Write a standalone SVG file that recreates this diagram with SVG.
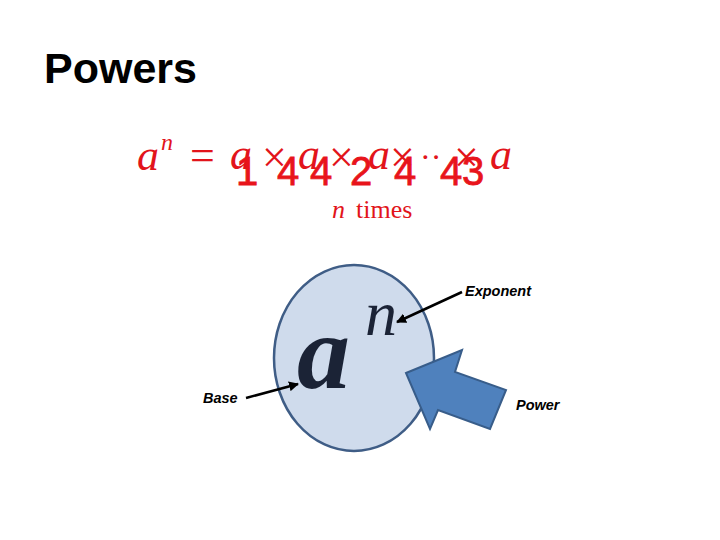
<svg xmlns="http://www.w3.org/2000/svg" width="720" height="540" viewBox="0 0 720 540">
<style>
.title{font-family:"Liberation Sans",Arial,sans-serif;font-weight:bold;font-size:43px;fill:#000}
.ser{font-family:"Liberation Serif","Times New Roman",serif;fill:#e2141b}
.it{font-style:italic}
.dig{font-family:"Liberation Sans",Arial,sans-serif;font-size:40px;fill:#e8141b;stroke:#e8141b;stroke-width:0.8}
.lbl{font-family:"Liberation Sans",Arial,sans-serif;font-style:italic;font-weight:bold;font-size:14.5px;fill:#000}
.conn{stroke:#000;stroke-width:2.5;fill:none;marker-end:url(#ah)}
</style>
<defs>
<marker id="ah" viewBox="0 0 10 10" refX="9" refY="5" markerWidth="4" markerHeight="4" orient="auto" markerUnits="strokeWidth">
<path d="M0,0 L10,5 L0,10 z" fill="#000"/>
</marker>
</defs>
<rect width="720" height="540" fill="#fff"/>
<text class="title" x="44" y="83">Powers</text>
<g id="formula">
<text class="ser it" font-size="44" y="170"><tspan x="137">a</tspan></text>
<text class="ser it" font-size="24" x="161" y="150">n</text>
<text class="ser" font-size="44" x="190" y="170">=</text>
<text class="ser it" font-size="44" y="169"><tspan x="230">a</tspan><tspan x="298">a</tspan><tspan x="368">a</tspan><tspan x="490">a</tspan></text>
<text class="ser" font-size="44" y="172"><tspan x="262">×</tspan><tspan x="329">×</tspan><tspan x="390">×</tspan><tspan x="454">×</tspan></text>
<text class="ser" font-size="32" x="420" y="168">··</text>
<text class="dig" y="185" x="236 254 277 310 335 350 372 394 414 440 462">1 44 2 4 43</text>
<text class="ser" font-size="26" y="218"><tspan class="it" x="332">n</tspan><tspan x="356">times</tspan></text>
</g>
<g id="circle">
<ellipse cx="354" cy="358" rx="80" ry="93" fill="#cfdbec" stroke="#3f5d86" stroke-width="2.5"/>
<text class="it" font-family="'Liberation Serif','Times New Roman',serif" font-weight="bold" font-size="106" fill="#1b2336" x="297" y="388">a</text>
<text class="it" font-family="'Liberation Serif','Times New Roman',serif" font-size="64" fill="#1b2336" x="365" y="335">n</text>
</g>
<g id="power-arrow">
<polygon points="406,373 462,350 455,372 506,390 490,429 438,410 430,429" fill="#4f81bd" stroke="#385d8a" stroke-width="2" stroke-linejoin="miter"/>
</g>
<g id="labels">
<text class="lbl" x="465" y="296">Exponent</text>
<text class="lbl" x="203" y="403">Base</text>
<text class="lbl" x="516" y="410">Power</text>
</g>
<g id="connectors">
<line class="conn" x1="462" y1="292" x2="397" y2="322"/>
<line class="conn" x1="246" y1="398" x2="298" y2="384"/>
</g>
</svg>
